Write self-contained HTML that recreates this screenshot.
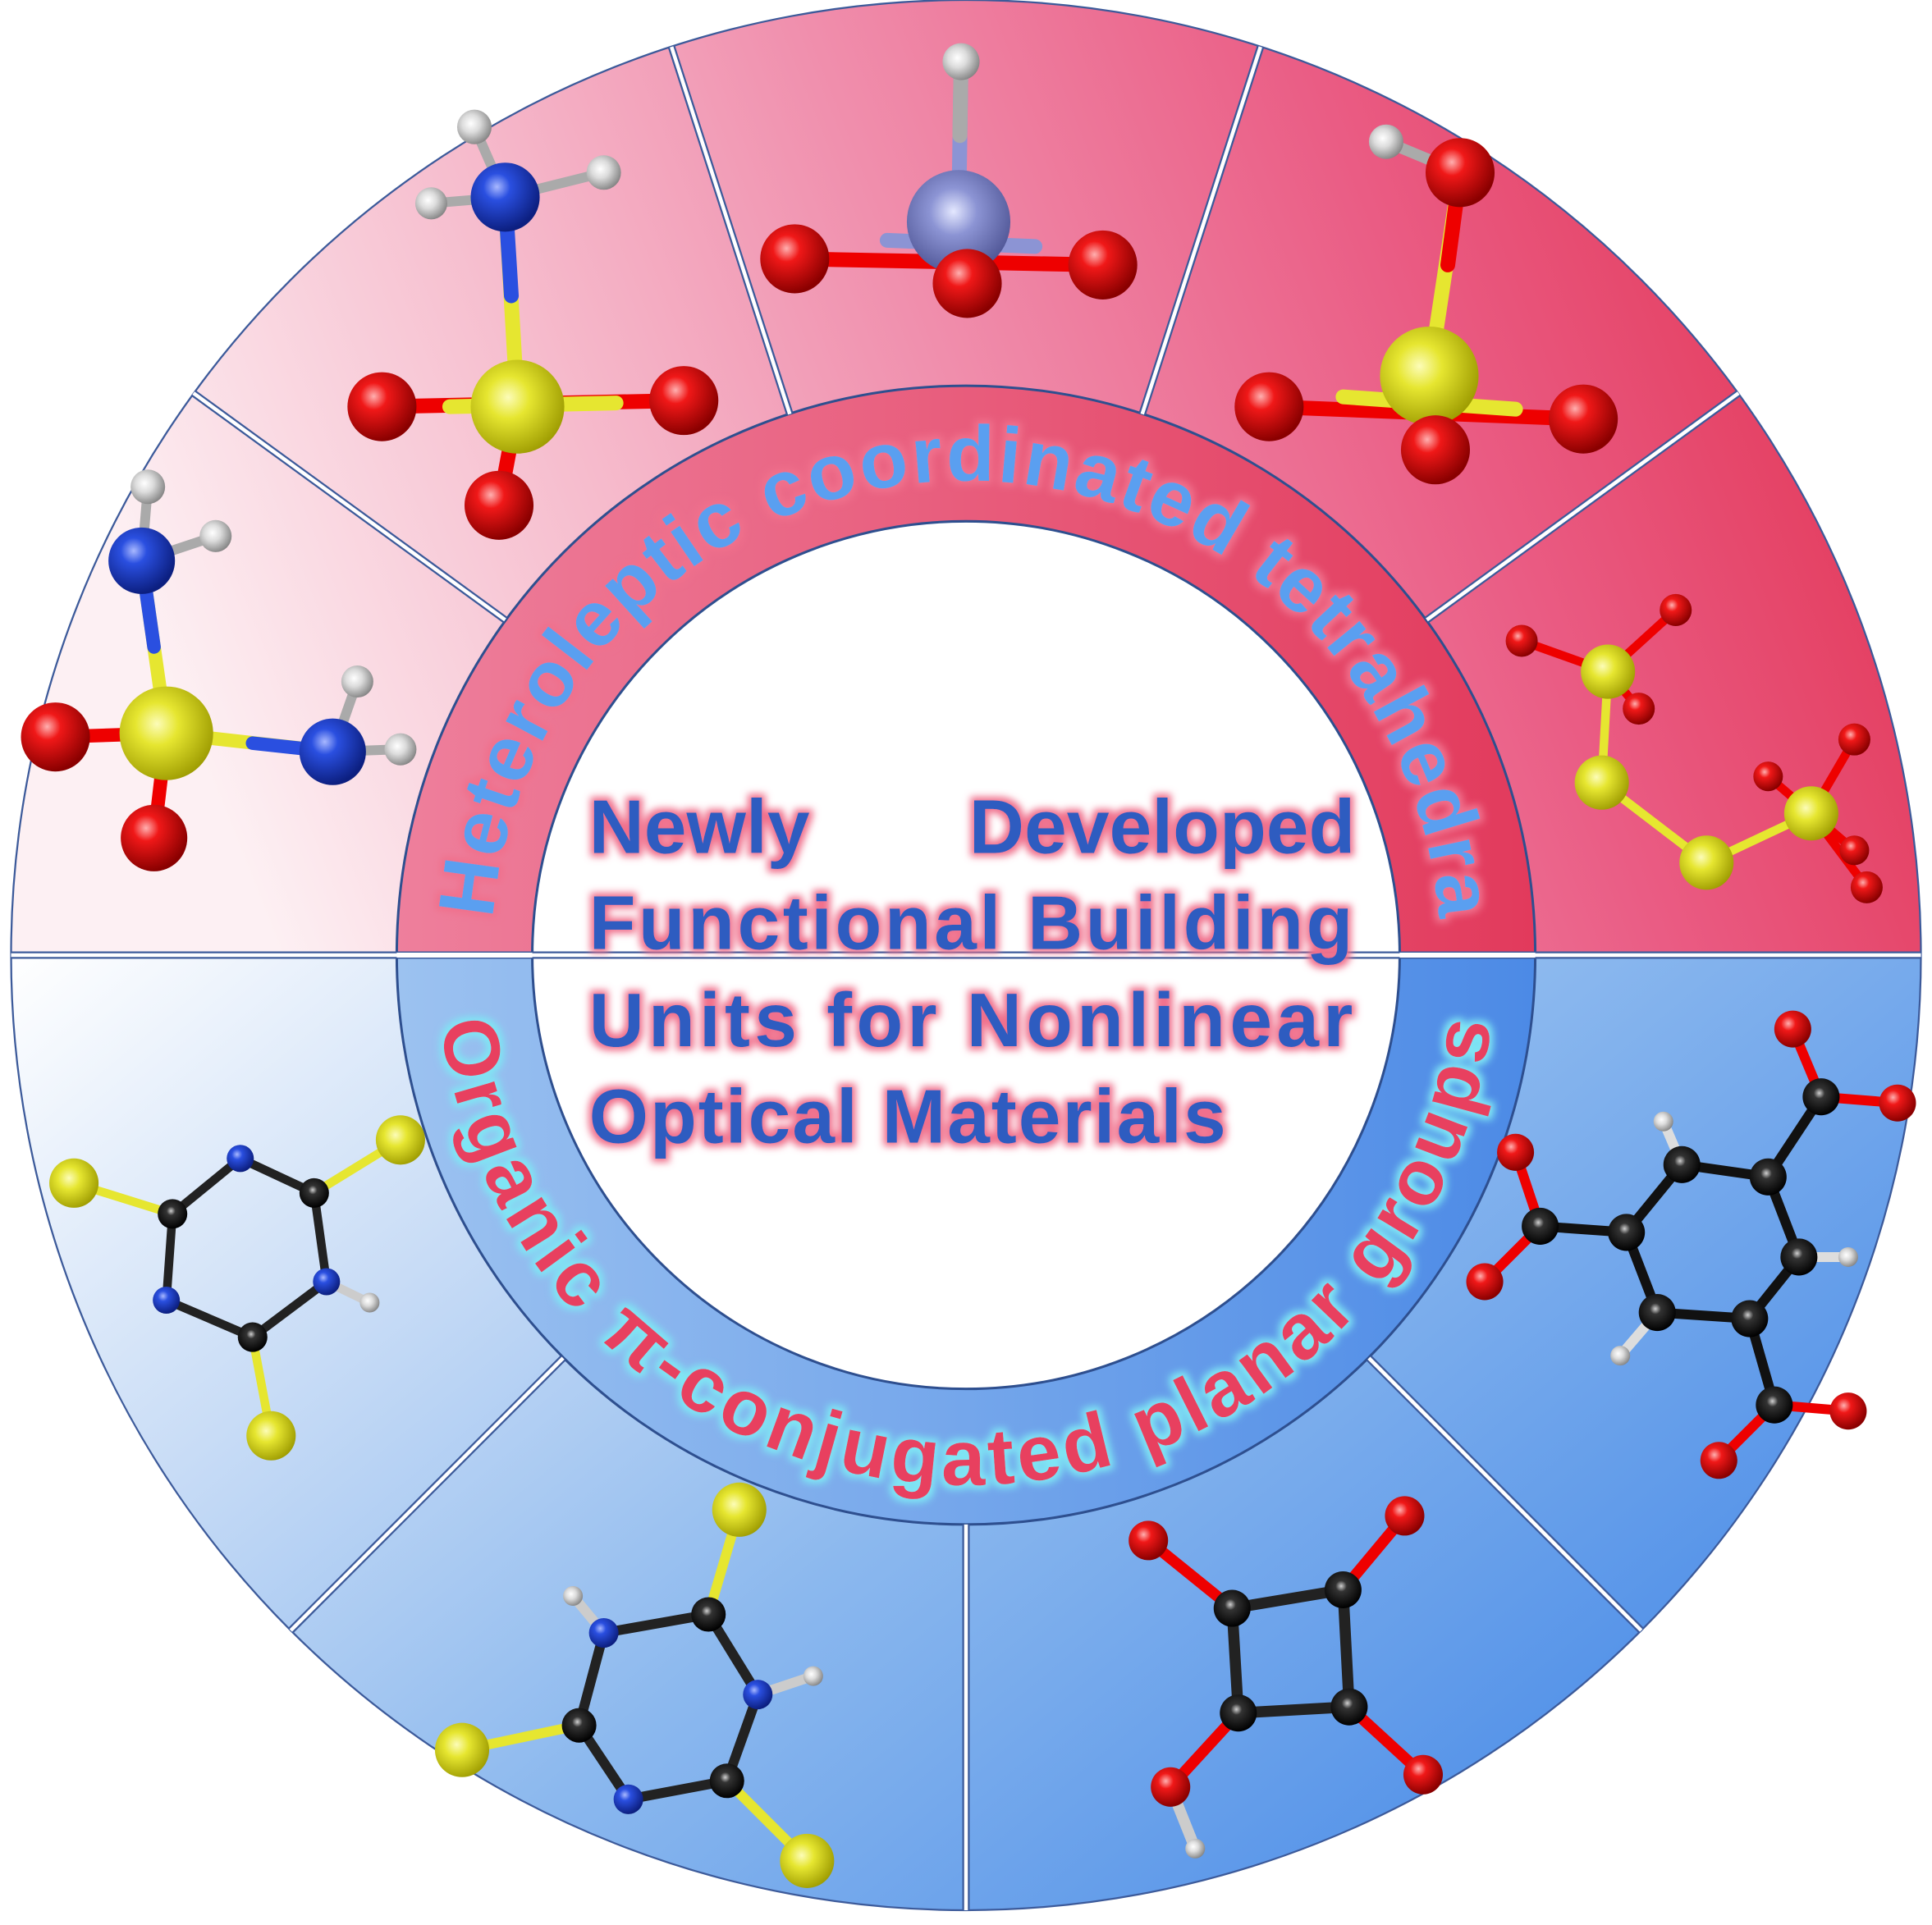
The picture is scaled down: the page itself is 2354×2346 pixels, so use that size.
<!DOCTYPE html>
<html><head><meta charset="utf-8"><style>
html,body{margin:0;padding:0;background:#fff;}
svg{display:block;}
</style></head><body>
<svg width="2354" height="2346" viewBox="0 0 1568 1562" preserveAspectRatio="none" xmlns="http://www.w3.org/2000/svg">
<defs>
<linearGradient id="gTop" x1="0" y1="0.3" x2="1" y2="0.1">
<stop offset="0" stop-color="#fdf0f3"/><stop offset="0.25" stop-color="#f6bccd"/>
<stop offset="0.45" stop-color="#f08fad"/><stop offset="0.7" stop-color="#ea5c84"/><stop offset="1" stop-color="#e02c4a"/>
</linearGradient>
<linearGradient id="gBot" x1="0" y1="0" x2="1" y2="0.6">
<stop offset="0" stop-color="#ffffff"/><stop offset="0.3" stop-color="#c8dcf6"/>
<stop offset="0.6" stop-color="#8bb8ee"/><stop offset="1" stop-color="#4f8fe8"/>
</linearGradient>
<linearGradient id="gRingT" x1="0" y1="0" x2="1" y2="0">
<stop offset="0" stop-color="#ee7f9c"/><stop offset="1" stop-color="#e23a5c"/>
</linearGradient>
<linearGradient id="gRingB" x1="0" y1="0" x2="1" y2="0">
<stop offset="0" stop-color="#9cc2f0"/><stop offset="1" stop-color="#4c8ae6"/>
</linearGradient>
<radialGradient id="rR" cx="0.38" cy="0.35" r="0.65"><stop offset="0" stop-color="#ffb0b0"/><stop offset="0.3" stop-color="#f01818"/><stop offset="1" stop-color="#8a0000"/></radialGradient>
<radialGradient id="rY" cx="0.4" cy="0.4" r="0.65"><stop offset="0" stop-color="#fcfcb8"/><stop offset="0.35" stop-color="#e6e630"/><stop offset="1" stop-color="#9c9a00"/></radialGradient>
<radialGradient id="rB" cx="0.38" cy="0.35" r="0.65"><stop offset="0" stop-color="#a8b8ff"/><stop offset="0.3" stop-color="#2a4fe0"/><stop offset="1" stop-color="#0c1f80"/></radialGradient>
<radialGradient id="rW" cx="0.4" cy="0.4" r="0.65"><stop offset="0" stop-color="#ffffff"/><stop offset="0.4" stop-color="#dcdcdc"/><stop offset="1" stop-color="#808080"/></radialGradient>
<radialGradient id="rK" cx="0.45" cy="0.4" r="0.6"><stop offset="0" stop-color="#d0d0d0"/><stop offset="0.25" stop-color="#333"/><stop offset="1" stop-color="#000"/></radialGradient>
<radialGradient id="rP" cx="0.45" cy="0.4" r="0.65"><stop offset="0" stop-color="#e4e8ff"/><stop offset="0.35" stop-color="#8c94d4"/><stop offset="1" stop-color="#4a5090"/></radialGradient>
<filter id="glowP" x="-10%" y="-30%" width="120%" height="160%">
<feMorphology in="SourceAlpha" operator="dilate" radius="3" result="d"/>
<feGaussianBlur in="d" stdDeviation="3" result="b"/>
<feFlood flood-color="#f0708c"/><feComposite in2="b" operator="in" result="g"/>
<feMerge><feMergeNode in="g"/><feMergeNode in="SourceGraphic"/></feMerge>
</filter>
<filter id="glowC" x="-10%" y="-30%" width="120%" height="160%">
<feMorphology in="SourceAlpha" operator="dilate" radius="3" result="d"/>
<feGaussianBlur in="d" stdDeviation="3" result="b"/>
<feFlood flood-color="#7fe6f4"/><feComposite in2="b" operator="in" result="g"/>
<feMerge><feMergeNode in="g"/><feMergeNode in="SourceGraphic"/></feMerge>
</filter>
<path id="arcT" d="M 399 775 A 385 385 0 0 1 1169 775"/>
<path id="arcB" d="M 354 775 A 430 430 0 0 0 1214 775"/>
</defs>

<path d="M 9 775 A 775 775 0 0 1 1559 775 Z" fill="url(#gTop)"/>
<path d="M 9 775 A 775 775 0 0 0 1559 775 Z" fill="url(#gBot)"/>
<circle cx="784" cy="775" r="775" fill="none" stroke="#3c5a9a" stroke-width="1.5"/>
<path d="M 322 775 A 462 462 0 0 1 1246 775 Z" fill="url(#gRingT)"/>
<path d="M 322 775 A 462 462 0 0 0 1246 775 Z" fill="url(#gRingB)"/>
<circle cx="784" cy="775" r="462" fill="none" stroke="#2e4f8f" stroke-width="2"/>
<circle cx="784" cy="775" r="352" fill="#fff" stroke="#2e4f8f" stroke-width="2"/>

<g stroke="#3c5a9a" stroke-width="6" fill="none">
<line x1="9" y1="775" x2="1559" y2="775"/>
<line x1="410" y1="503" x2="157" y2="319"/>
<line x1="641" y1="336" x2="545" y2="38"/>
<line x1="927" y1="336" x2="1023" y2="38"/>
<line x1="1158" y1="503" x2="1411" y2="319"/>
<line x1="457" y1="1102" x2="236" y2="1323"/>
<line x1="784" y1="1237" x2="784" y2="1550"/>
<line x1="1111" y1="1102" x2="1332" y2="1323"/>
</g>
<g stroke="#fff" stroke-width="3" fill="none">
<line x1="9" y1="775" x2="1559" y2="775"/>
<line x1="410" y1="503" x2="157" y2="319"/>
<line x1="641" y1="336" x2="545" y2="38"/>
<line x1="927" y1="336" x2="1023" y2="38"/>
<line x1="1158" y1="503" x2="1411" y2="319"/>
<line x1="457" y1="1102" x2="236" y2="1323"/>
<line x1="784" y1="1237" x2="784" y2="1550"/>
<line x1="1111" y1="1102" x2="1332" y2="1323"/>
</g>
<line x1="322" y1="775" x2="432" y2="775" stroke="#fff" stroke-width="4"/>
<line x1="1136" y1="775" x2="1246" y2="775" stroke="#fff" stroke-width="4"/>

<text font-family="Liberation Sans, sans-serif" font-weight="bold" font-size="64" fill="#5a9ff0" filter="url(#glowP)">
<textPath href="#arcT" startOffset="50%" text-anchor="middle" textLength="1150" lengthAdjust="spacing">Heteroleptic coordinated tetrahedra</textPath></text>
<text font-family="Liberation Sans, sans-serif" font-weight="bold" font-size="64" fill="#e8405e" filter="url(#glowC)">
<textPath href="#arcB" startOffset="50%" text-anchor="middle" textLength="1240" lengthAdjust="spacing">Organic π-conjugated planar groups</textPath></text>

<g font-family="Liberation Sans, sans-serif" font-weight="bold" font-size="62" fill="#2f5cc0" filter="url(#glowP)">
<text x="478" y="692">Newly</text>
<text x="1100" y="692" text-anchor="end">Developed</text>
<text x="478" y="770" textLength="620" lengthAdjust="spacing">Functional Building</text>
<text x="478" y="849" textLength="620" lengthAdjust="spacing">Units for Nonlinear</text>
<text x="478" y="927" textLength="517" lengthAdjust="spacing">Optical Materials</text>
</g>

<g stroke-linecap="round">
<line x1="135" y1="595" x2="115" y2="455" stroke="#e6e630" stroke-width="11"/>
<line x1="125" y1="525" x2="115" y2="455" stroke="#2a4fe0" stroke-width="11"/>
<line x1="135" y1="595" x2="270" y2="610" stroke="#e6e630" stroke-width="11"/>
<line x1="205" y1="603" x2="270" y2="610" stroke="#2a4fe0" stroke-width="11"/>
<line x1="135" y1="595" x2="45" y2="598" stroke="#e00" stroke-width="11"/>
<line x1="135" y1="595" x2="125" y2="680" stroke="#e00" stroke-width="11"/>
<line x1="115" y1="455" x2="120" y2="395" stroke="#aaa" stroke-width="8"/>
<line x1="115" y1="455" x2="175" y2="435" stroke="#aaa" stroke-width="8"/>
<line x1="270" y1="610" x2="290" y2="553" stroke="#aaa" stroke-width="8"/>
<line x1="270" y1="610" x2="325" y2="608" stroke="#aaa" stroke-width="8"/>
</g>
<circle cx="120" cy="395" r="14" fill="url(#rW)"/><circle cx="175" cy="435" r="13" fill="url(#rW)"/>
<circle cx="290" cy="553" r="13" fill="url(#rW)"/><circle cx="325" cy="608" r="13" fill="url(#rW)"/>
<circle cx="115" cy="455" r="27" fill="url(#rB)"/><circle cx="270" cy="610" r="27" fill="url(#rB)"/>
<circle cx="45" cy="598" r="28" fill="url(#rR)"/>
<circle cx="135" cy="595" r="38" fill="url(#rY)"/>
<circle cx="125" cy="680" r="27" fill="url(#rR)"/>

<g stroke-linecap="round">
<line x1="420" y1="330" x2="410" y2="160" stroke="#e6e630" stroke-width="12"/>
<line x1="415" y1="240" x2="410" y2="160" stroke="#2a4fe0" stroke-width="12"/>
<line x1="310" y1="330" x2="555" y2="325" stroke="#e00" stroke-width="12"/>
<line x1="365" y1="330" x2="500" y2="327" stroke="#e6e630" stroke-width="12"/>
<line x1="420" y1="330" x2="405" y2="410" stroke="#e00" stroke-width="12"/>
<line x1="410" y1="160" x2="385" y2="103" stroke="#aaa" stroke-width="8"/>
<line x1="410" y1="160" x2="350" y2="165" stroke="#aaa" stroke-width="8"/>
<line x1="410" y1="160" x2="490" y2="140" stroke="#aaa" stroke-width="8"/>
</g>
<circle cx="385" cy="103" r="14" fill="url(#rW)"/><circle cx="350" cy="165" r="13" fill="url(#rW)"/><circle cx="490" cy="140" r="14" fill="url(#rW)"/>
<circle cx="410" cy="160" r="28" fill="url(#rB)"/>
<circle cx="310" cy="330" r="28" fill="url(#rR)"/><circle cx="555" cy="325" r="28" fill="url(#rR)"/>
<circle cx="420" cy="330" r="38" fill="url(#rY)"/>
<circle cx="405" cy="410" r="28" fill="url(#rR)"/>

<g stroke-linecap="round">
<line x1="778" y1="180" x2="780" y2="50" stroke="#8c94d4" stroke-width="12"/>
<line x1="779" y1="110" x2="780" y2="50" stroke="#aaa" stroke-width="12"/>
<line x1="645" y1="210" x2="895" y2="215" stroke="#e00" stroke-width="12"/>
<line x1="720" y1="195" x2="840" y2="200" stroke="#8c94d4" stroke-width="12"/>
<line x1="778" y1="180" x2="785" y2="230" stroke="#e00" stroke-width="12"/>
</g>
<circle cx="780" cy="50" r="15" fill="url(#rW)"/>
<circle cx="645" cy="210" r="28" fill="url(#rR)"/><circle cx="895" cy="215" r="28" fill="url(#rR)"/>
<circle cx="778" cy="180" r="42" fill="url(#rP)"/>
<circle cx="785" cy="230" r="28" fill="url(#rR)"/>

<g stroke-linecap="round">
<line x1="1160" y1="305" x2="1185" y2="140" stroke="#e6e630" stroke-width="12"/>
<line x1="1175" y1="215" x2="1185" y2="140" stroke="#e00" stroke-width="12"/>
<line x1="1030" y1="330" x2="1285" y2="340" stroke="#e00" stroke-width="12"/>
<line x1="1090" y1="322" x2="1230" y2="332" stroke="#e6e630" stroke-width="12"/>
<line x1="1160" y1="305" x2="1165" y2="365" stroke="#e00" stroke-width="12"/>
<line x1="1185" y1="140" x2="1125" y2="115" stroke="#aaa" stroke-width="9"/>
</g>
<circle cx="1125" cy="115" r="14" fill="url(#rW)"/>
<circle cx="1185" cy="140" r="28" fill="url(#rR)"/>
<circle cx="1030" cy="330" r="28" fill="url(#rR)"/><circle cx="1285" cy="340" r="28" fill="url(#rR)"/>
<circle cx="1160" cy="305" r="40" fill="url(#rY)"/>
<circle cx="1165" cy="365" r="28" fill="url(#rR)"/>

<g stroke-linecap="round" stroke-width="7">
<line x1="1305" y1="545" x2="1300" y2="635" stroke="#e6e630"/>
<line x1="1300" y1="635" x2="1385" y2="700" stroke="#e6e630"/>
<line x1="1385" y1="700" x2="1470" y2="660" stroke="#e6e630"/>
<line x1="1305" y1="545" x2="1235" y2="520" stroke="#e00"/>
<line x1="1305" y1="545" x2="1360" y2="495" stroke="#e00"/>
<line x1="1305" y1="545" x2="1330" y2="575" stroke="#e00"/>
<line x1="1470" y1="660" x2="1505" y2="600" stroke="#e00"/>
<line x1="1470" y1="660" x2="1435" y2="630" stroke="#e00"/>
<line x1="1470" y1="660" x2="1505" y2="690" stroke="#e00"/>
<line x1="1470" y1="660" x2="1515" y2="720" stroke="#e00"/>
</g>
<g fill="url(#rR)">
<circle cx="1235" cy="520" r="13"/><circle cx="1360" cy="495" r="13"/><circle cx="1330" cy="575" r="13"/>
<circle cx="1505" cy="600" r="13"/><circle cx="1435" cy="630" r="12"/><circle cx="1505" cy="690" r="12"/><circle cx="1515" cy="720" r="13"/>
</g>
<g fill="url(#rY)">
<circle cx="1305" cy="545" r="22"/><circle cx="1300" cy="635" r="22"/><circle cx="1470" cy="660" r="22"/><circle cx="1385" cy="700" r="22"/>
</g>

<g stroke-linecap="round" stroke-width="7" stroke="#222">
<polyline points="140,985 195,940 255,968 265,1040 205,1085 135,1055 140,985" fill="none"/>
<line x1="140" y1="985" x2="60" y2="960" stroke="#e6e630"/>
<line x1="255" y1="968" x2="325" y2="925" stroke="#e6e630"/>
<line x1="205" y1="1085" x2="220" y2="1165" stroke="#e6e630"/>
<line x1="265" y1="1040" x2="300" y2="1057" stroke="#ccc"/>
</g>
<circle cx="300" cy="1057" r="8" fill="url(#rW)"/>
<g fill="url(#rB)"><circle cx="195" cy="940" r="11"/><circle cx="265" cy="1040" r="11"/><circle cx="135" cy="1055" r="11"/></g>
<g fill="url(#rK)"><circle cx="140" cy="985" r="12"/><circle cx="255" cy="968" r="12"/><circle cx="205" cy="1085" r="12"/></g>
<g fill="url(#rY)"><circle cx="60" cy="960" r="20"/><circle cx="325" cy="925" r="20"/><circle cx="220" cy="1165" r="20"/></g>

<g stroke-linecap="round" stroke-width="8" stroke="#222">
<polyline points="575,1310 615,1375 590,1445 510,1460 470,1400 490,1325 575,1310" fill="none"/>
<line x1="575" y1="1310" x2="600" y2="1225" stroke="#e6e630"/>
<line x1="470" y1="1400" x2="375" y2="1420" stroke="#e6e630"/>
<line x1="590" y1="1445" x2="655" y2="1510" stroke="#e6e630"/>
<line x1="490" y1="1325" x2="465" y2="1295" stroke="#ccc"/>
<line x1="615" y1="1375" x2="660" y2="1360" stroke="#ccc"/>
</g>
<circle cx="465" cy="1295" r="8" fill="url(#rW)"/><circle cx="660" cy="1360" r="8" fill="url(#rW)"/>
<g fill="url(#rB)"><circle cx="490" cy="1325" r="12"/><circle cx="615" cy="1375" r="12"/><circle cx="510" cy="1460" r="12"/></g>
<g fill="url(#rK)"><circle cx="575" cy="1310" r="14"/><circle cx="470" cy="1400" r="14"/><circle cx="590" cy="1445" r="14"/></g>
<g fill="url(#rY)"><circle cx="600" cy="1225" r="22"/><circle cx="375" cy="1420" r="22"/><circle cx="655" cy="1510" r="22"/></g>

<g stroke-linecap="round" stroke-width="9" stroke="#222">
<polygon points="1000,1305 1090,1290 1095,1385 1005,1390" fill="none"/>
<line x1="1000" y1="1305" x2="932" y2="1250" stroke="#e00"/>
<line x1="1090" y1="1290" x2="1140" y2="1230" stroke="#e00"/>
<line x1="1095" y1="1385" x2="1155" y2="1440" stroke="#e00"/>
<line x1="1005" y1="1390" x2="950" y2="1450" stroke="#e00"/>
<line x1="950" y1="1450" x2="970" y2="1500" stroke="#ccc"/>
</g>
<circle cx="970" cy="1500" r="8" fill="url(#rW)"/>
<g fill="url(#rR)"><circle cx="932" cy="1250" r="16"/><circle cx="1140" cy="1230" r="16"/><circle cx="1155" cy="1440" r="16"/><circle cx="950" cy="1450" r="16"/></g>
<g fill="url(#rK)"><circle cx="1000" cy="1305" r="15"/><circle cx="1090" cy="1290" r="15"/><circle cx="1095" cy="1385" r="15"/><circle cx="1005" cy="1390" r="15"/></g>

<g stroke-linecap="round" stroke-width="8" stroke="#111">
<polygon points="1365,945 1435,955 1460,1020 1420,1070 1345,1065 1320,1000" fill="none"/>
<line x1="1435" y1="955" x2="1478" y2="890"/>
<line x1="1320" y1="1000" x2="1250" y2="995"/>
<line x1="1420" y1="1070" x2="1440" y2="1140"/>
<line x1="1478" y1="890" x2="1455" y2="835" stroke="#e00"/>
<line x1="1478" y1="890" x2="1540" y2="895" stroke="#e00"/>
<line x1="1250" y1="995" x2="1230" y2="935" stroke="#e00"/>
<line x1="1250" y1="995" x2="1205" y2="1040" stroke="#e00"/>
<line x1="1440" y1="1140" x2="1500" y2="1145" stroke="#e00"/>
<line x1="1440" y1="1140" x2="1395" y2="1185" stroke="#e00"/>
<line x1="1365" y1="945" x2="1350" y2="910" stroke="#ddd"/>
<line x1="1460" y1="1020" x2="1500" y2="1020" stroke="#ddd"/>
<line x1="1345" y1="1065" x2="1315" y2="1100" stroke="#ddd"/>
</g>
<g fill="url(#rW)"><circle cx="1350" cy="910" r="8"/><circle cx="1500" cy="1020" r="8"/><circle cx="1315" cy="1100" r="8"/></g>
<g fill="url(#rR)"><circle cx="1455" cy="835" r="15"/><circle cx="1540" cy="895" r="15"/><circle cx="1230" cy="935" r="15"/><circle cx="1205" cy="1040" r="15"/><circle cx="1500" cy="1145" r="15"/><circle cx="1395" cy="1185" r="15"/></g>
<g fill="url(#rK)"><circle cx="1365" cy="945" r="15"/><circle cx="1435" cy="955" r="15"/><circle cx="1460" cy="1020" r="15"/><circle cx="1420" cy="1070" r="15"/><circle cx="1345" cy="1065" r="15"/><circle cx="1320" cy="1000" r="15"/><circle cx="1478" cy="890" r="15"/><circle cx="1250" cy="995" r="15"/><circle cx="1440" cy="1140" r="15"/></g>
</svg>
</body></html>
